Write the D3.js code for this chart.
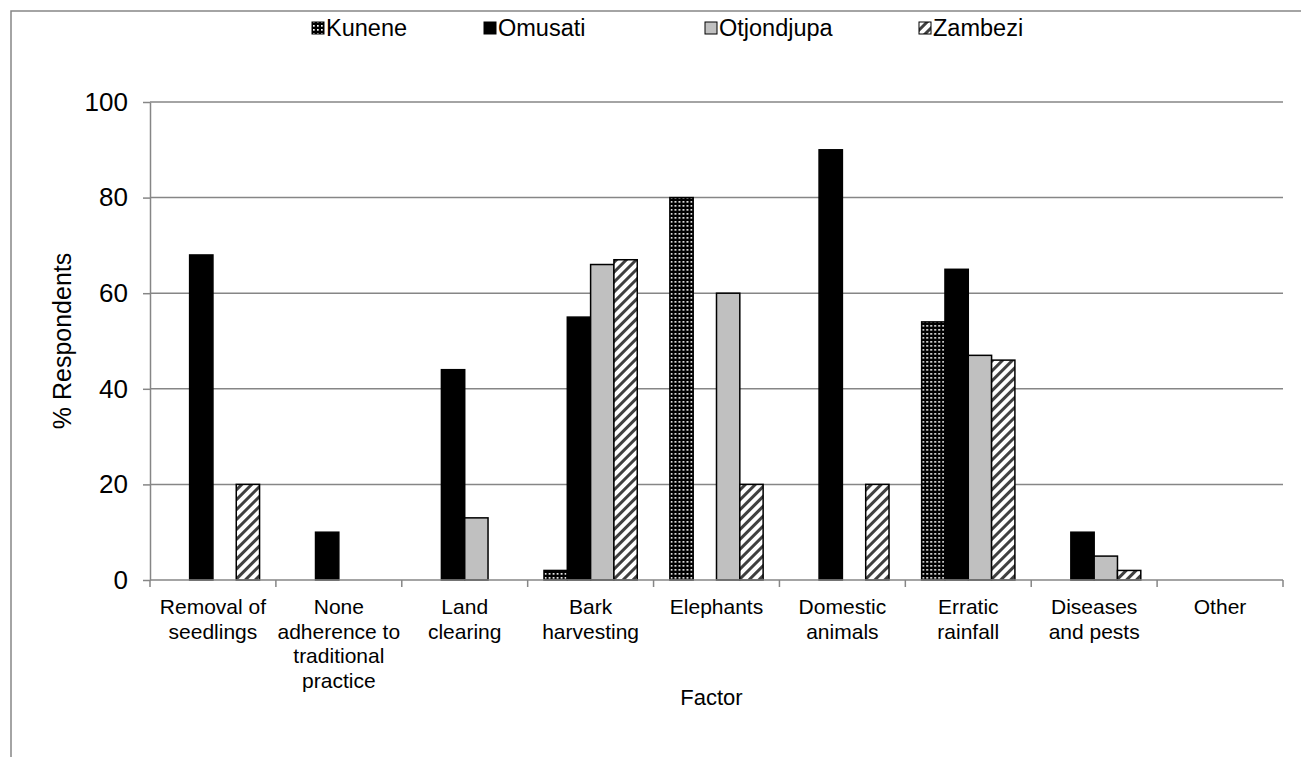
<!DOCTYPE html>
<html>
<head>
<meta charset="utf-8">
<script src="https://cdn.jsdelivr.net/npm/d3@7"></script>
<style>
  html, body { margin: 0; padding: 0; background: #fff; }
  svg { display: block; font-family: Arial, "Liberation Sans", sans-serif; }
</style>
</head>
<body>
<div class="chart"></div>
<script>
// data
let categories = [
  ["Removal of", "seedlings"],
  ["None", "adherence to", "traditional", "practice"],
  ["Land", "clearing"],
  ["Bark", "harvesting"],
  ["Elephants"],
  ["Domestic", "animals"],
  ["Erratic", "rainfall"],
  ["Diseases", "and pests"],
  ["Other"]
];
let seriesNames = ["Kunene", "Omusati", "Otjondjupa", "Zambezi"];
let kunene     = [0, 0, 0, 2, 80, 0, 54, 0, 0];
let omusati    = [68, 10, 44, 55, 0, 90, 65, 10, 0];
let otjondjupa = [0, 0, 13, 66, 60, 0, 47, 5, 0];
let zambezi    = [20, 0, 0, 67, 20, 20, 46, 2, 0];
let yTicks = [0, 20, 40, 60, 80, 100];

let config = {
  width: 1301,
  height: 757,
  left: 150,
  right: 1283,
  top: 102,
  bottom: 580,
  gridColor: '#868686',
  legendX: [312, 484, 705, 919]
};

let seriesValues = [kunene, omusati, otjondjupa, zambezi];
let fills = ['url(#dots)', '#000', '#c0c0c0', 'url(#hatch)'];

let svg = d3.select('div.chart').append('svg')
  .attr('width', config.width)
  .attr('height', config.height);

// patterns
let defs = svg.append('defs');
let dots = defs.append('pattern')
  .attr('id', 'dots')
  .attr('patternUnits', 'userSpaceOnUse')
  .attr('width', 4).attr('height', 4);
dots.append('rect').attr('width', 4).attr('height', 4).attr('fill', '#000');
dots.append('rect').attr('x', 1).attr('y', 1).attr('width', 1.7).attr('height', 1.7).attr('fill', '#fff');

let hatch = defs.append('pattern')
  .attr('id', 'hatch')
  .attr('patternUnits', 'userSpaceOnUse')
  .attr('width', 7).attr('height', 7)
  .attr('patternTransform', 'rotate(45)');
hatch.append('rect').attr('width', 7).attr('height', 7).attr('fill', '#fff');
hatch.append('rect').attr('width', 3).attr('height', 7).attr('fill', '#404040');

// outer frame (chart area border, cut by the window)
svg.append('rect')
  .attr('x', 11).attr('y', 11)
  .attr('width', 1400).attr('height', 900)
  .attr('fill', 'none')
  .attr('stroke', config.gridColor)
  .attr('stroke-width', 1.5);

let x0 = d3.scaleBand()
  .domain(d3.range(categories.length))
  .range([config.left, config.right]);

let x1 = d3.scaleBand()
  .domain(seriesNames)
  .range([0, x0.bandwidth()])
  .paddingOuter(0.7);

let y = d3.scaleLinear()
  .domain([0, 100])
  .range([config.bottom, config.top]);

// gridlines
svg.append('g')
  .selectAll('line')
  .data(yTicks.filter((d) => d > 0))
  .enter().append('line')
  .attr('x1', config.left).attr('x2', config.right)
  .attr('y1', (d) => y(d)).attr('y2', (d) => y(d))
  .attr('stroke', config.gridColor)
  .attr('stroke-width', 1.5);

// y axis
let yAxis = svg.append('g')
  .attr('transform', 'translate(' + config.left + ',0)')
  .call(d3.axisLeft(y).tickValues(yTicks).tickSize(7).tickPadding(15).tickSizeOuter(0));
yAxis.select('.domain').attr('stroke', config.gridColor).attr('stroke-width', 1.5);
yAxis.selectAll('.tick line').attr('stroke', config.gridColor).attr('stroke-width', 1.5);
yAxis.selectAll('.tick text')
  .attr('font-size', '26px')
  .attr('font-family', 'Arial, "Liberation Sans", sans-serif')
  .attr('fill', '#000');

// bars
let groups = svg.append('g')
  .selectAll('g')
  .data(categories)
  .enter().append('g')
  .attr('transform', (d, i) => 'translate(' + x0(i) + ',0)');

groups.selectAll('rect')
  .data((d, i) => seriesNames.map((s, j) => ({ s: s, j: j, v: seriesValues[j][i] })))
  .enter().filter((d) => d.v > 0).append('rect')
  .attr('x', (d) => x1(d.s))
  .attr('width', x1.bandwidth())
  .attr('y', (d) => y(d.v))
  .attr('height', (d) => y(0) - y(d.v))
  .attr('fill', (d) => fills[d.j])
  .attr('stroke', '#000')
  .attr('stroke-width', 1.5);

// x axis line and ticks at category boundaries
svg.append('line')
  .attr('x1', config.left).attr('x2', config.right)
  .attr('y1', config.bottom).attr('y2', config.bottom)
  .attr('stroke', config.gridColor)
  .attr('stroke-width', 1.5);

let boundaries = d3.range(categories.length + 1).map((i) => config.left + i * x0.step());
svg.append('g')
  .selectAll('line')
  .data(boundaries)
  .enter().append('line')
  .attr('x1', (d) => d).attr('x2', (d) => d)
  .attr('y1', config.bottom).attr('y2', config.bottom + 7)
  .attr('stroke', config.gridColor)
  .attr('stroke-width', 1.5);

// category labels
let catLabels = svg.append('g')
  .selectAll('text')
  .data(categories)
  .enter().append('text')
  .attr('x', (d, i) => x0(i) + x0.bandwidth() / 2)
  .attr('y', 614)
  .attr('text-anchor', 'middle')
  .attr('font-size', '21px')
  .attr('fill', '#000');
catLabels.selectAll('tspan')
  .data((d) => d)
  .enter().append('tspan')
  .attr('x', function() { return d3.select(this.parentNode).attr('x'); })
  .attr('dy', (d, i) => i === 0 ? 0 : 24.5)
  .text((d) => d);

// axis titles
svg.append('text')
  .attr('x', (config.left + config.right) / 2 - 5)
  .attr('y', 705)
  .attr('text-anchor', 'middle')
  .attr('font-size', '22px')
  .text('Factor');

svg.append('text')
  .attr('transform', 'translate(71,' + ((config.top + config.bottom) / 2) + ') rotate(-90)')
  .attr('text-anchor', 'middle')
  .attr('font-size', '25px')
  .text('% Respondents');

// legend
let legend = svg.append('g')
  .selectAll('g')
  .data(seriesNames)
  .enter().append('g')
  .attr('transform', (d, i) => 'translate(' + config.legendX[i] + ',28)');

legend.append('rect')
  .attr('x', 0).attr('y', -6)
  .attr('width', 12).attr('height', 12)
  .attr('fill', (d, i) => fills[i])
  .attr('stroke', '#000')
  .attr('stroke-width', 1);

legend.append('text')
  .attr('x', 14)
  .attr('y', 0)
  .attr('dy', '0.35em')
  .attr('font-size', '23.5px')
  .text((d) => d);
</script>
</body>
</html>
